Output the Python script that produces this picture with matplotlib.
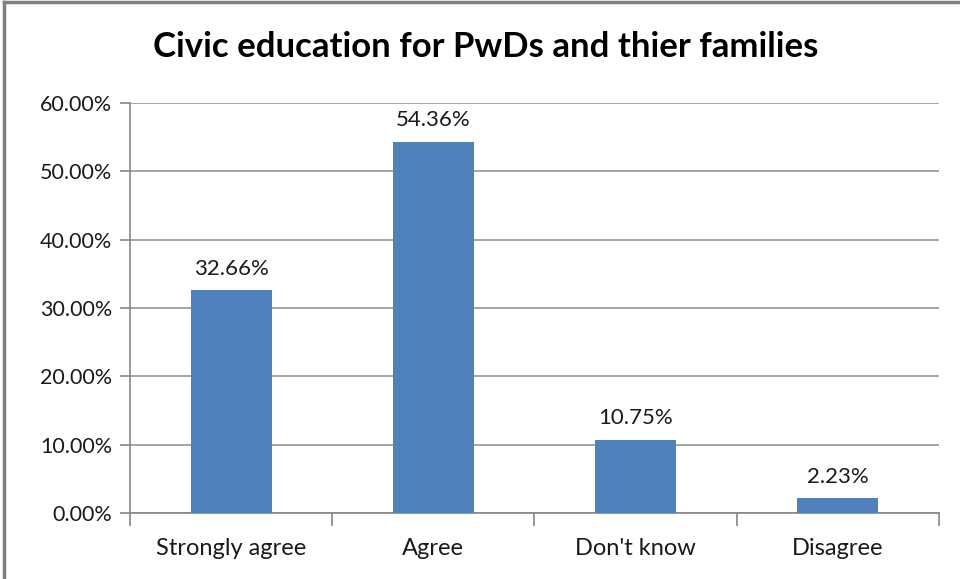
import numpy as np
import matplotlib
matplotlib.use('Agg')
import matplotlib.pyplot as plt
from matplotlib.lines import Line2D

categories = ['Strongly agree', 'Agree', "Don't know", 'Disagree']
values = [32.66, 54.36, 10.75, 2.23]
y_ticks = [0, 10, 20, 30, 40, 50, 60]

plt.rcParams['font.family'] = ['Lato', 'DejaVu Sans']

fig = plt.figure(figsize=(9.6, 5.79), dpi=100)
ax = fig.add_axes([0.1354, 0.114, 0.8426, 0.708])

x = np.arange(len(categories))
ax.bar(x, values, width=0.4, color='#4F81BD', zorder=3)

# Data labels above bars
for xi, v in zip(x, values):
    ax.annotate(f'{v:.2f}%', (xi, v), xytext=(0, 8), textcoords='offset points',
                ha='center', va='bottom', fontsize=16, color='#1a1a1a')

ax.set_xlim(-0.5, len(categories) - 0.5)
ax.set_ylim(0, 60)
ax.set_yticks(y_ticks)
ax.set_yticklabels([f'{t:.2f}%' for t in y_ticks], fontsize=15.5, color='#1a1a1a')
ax.set_xticks(x)
ax.set_xticklabels(categories, fontsize=17, color='#1a1a1a')
ax.tick_params(axis='x', which='major', length=0, pad=18)
ax.set_xticks(np.arange(-0.5, len(categories)), minor=True)
ax.tick_params(axis='x', which='minor', length=9, color='#868686', width=1.2)
ax.tick_params(axis='y', length=7, color='#868686', width=1.2, pad=6)

ax.grid(axis='y', color='#8c8c8c', linewidth=1.1, zorder=0)
for side in ['top', 'right']:
    ax.spines[side].set_visible(False)
for side in ['left', 'bottom']:
    ax.spines[side].set_color('#868686')
    ax.spines[side].set_linewidth(1.2)

fig.text(0.506, 0.918, 'Civic education for PwDs and thier families',
         ha='center', va='center', fontsize=25, fontweight='bold', color='black')

# Chart area frame (left and top edges visible)
fig.add_artist(Line2D([0.004, 0.004], [0, 0.997], transform=fig.transFigure,
                      color='#808080', linewidth=2.5))
fig.add_artist(Line2D([0.004, 1], [0.997, 0.997], transform=fig.transFigure,
                      color='#808080', linewidth=2.5))

fig.savefig('out.png', dpi=100)
